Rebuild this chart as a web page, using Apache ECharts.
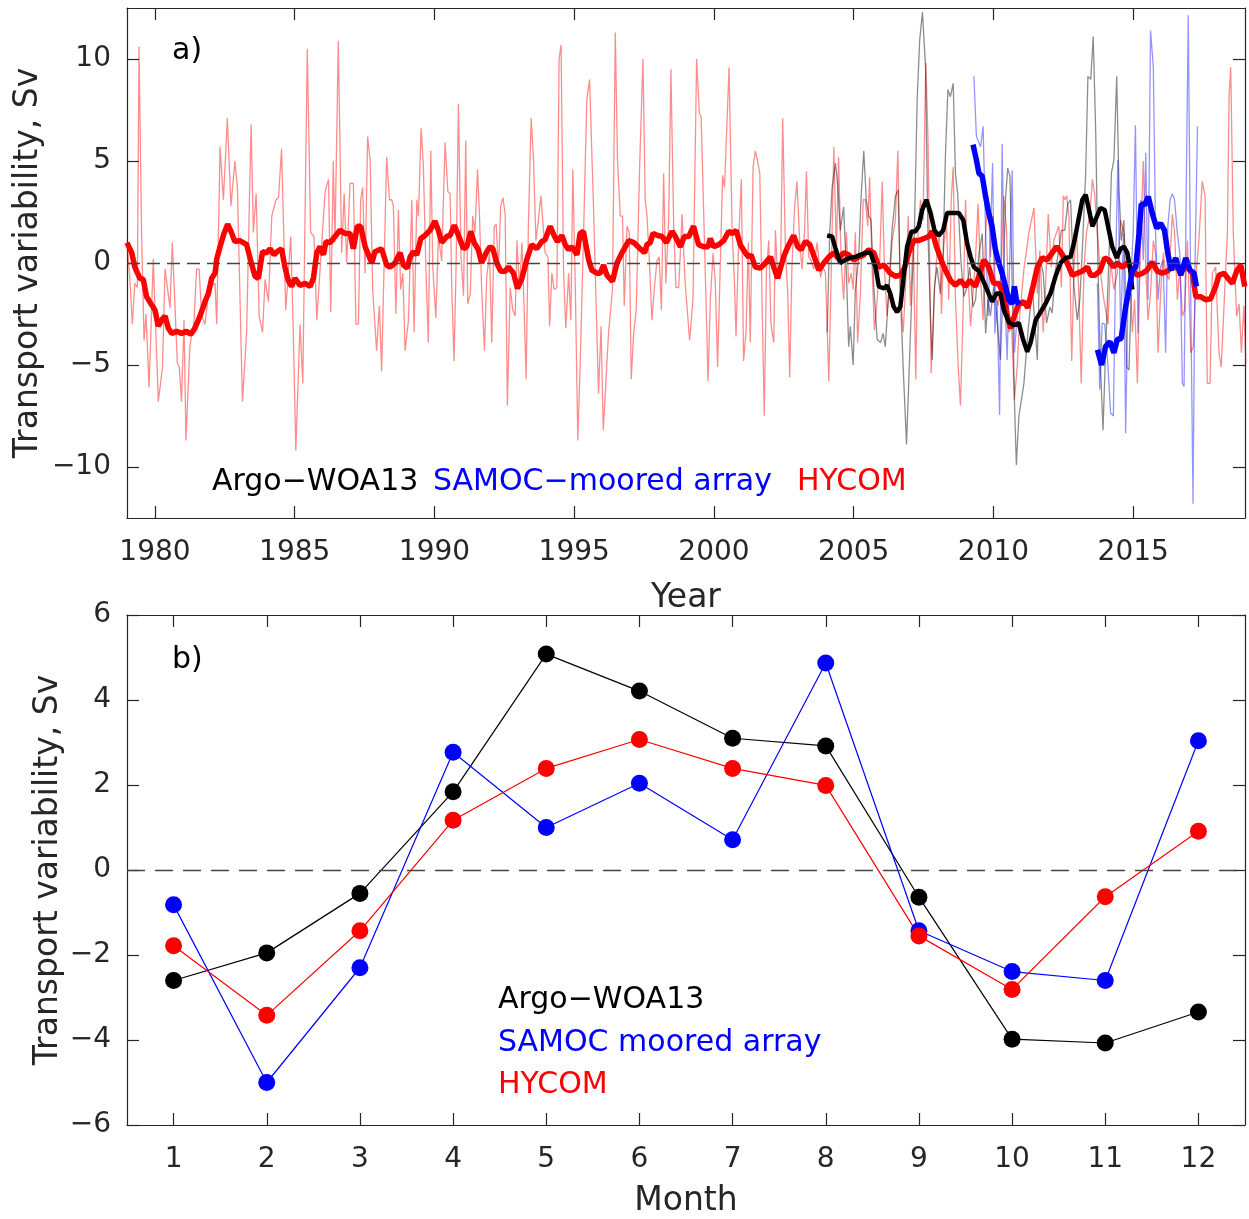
<!DOCTYPE html>
<html>
<head>
<meta charset="utf-8">
<title>Transport variability</title>
<script src="https://cdn.jsdelivr.net/npm/echarts@6/dist/echarts.min.js"></script>
<style>
  html, body { margin: 0; padding: 0; background: #fff; }
  #chart { width: 1249px; height: 1219px; }
</style>
</head>
<body>
<div id="chart"></div>
<script>
// panel a) tick positions
const yearTicks = [1980, 1985, 1990, 1995, 2000, 2005, 2010, 2015];
const transportTicks = [-10, -5, 0, 5, 10];

// HYCOM monthly transport anomaly [year, Sv]
const hycomMonthly = [
  [1979.0,1.0],[1979.1,-0.7],[1979.19,-3.0],[1979.28,-1.0],[1979.37,-1.2],[1979.43,10.6],[1979.52,1.5],[1979.61,-3.8],[1979.68,-2.5],[1979.79,-6.1],[1979.94,0.2],
  [1980.12,-6.8],[1980.27,-5.1],[1980.36,-0.3],[1980.54,-2.2],[1980.62,1.0],[1980.69,-1.2],[1980.8,-4.9],[1980.87,-5.1],[1980.95,-6.8],
  [1981.04,-2.8],[1981.11,-8.7],[1981.25,-4.1],[1981.4,-2.8],[1981.49,-0.3],[1981.58,-0.3],[1981.67,-2.6],[1981.79,-3.0],[1981.91,-1.5],
  [1982.03,-1.1],[1982.15,-1.0],[1982.21,-3.0],[1982.33,5.7],[1982.45,3.1],[1982.59,7.1],[1982.72,2.8],[1982.86,5.0],[1982.95,3.7],
  [1983.13,-6.8],[1983.28,-3.4],[1983.44,6.8],[1983.52,1.5],[1983.62,3.4],[1983.73,-2.6],[1983.85,-3.4],[1983.94,-0.8],
  [1984.06,-1.9],[1984.18,2.3],[1984.33,3.1],[1984.42,3.2],[1984.53,5.6],[1984.68,-2.3],[1984.86,1.3],[1984.95,-3.4],
  [1985.04,-9.2],[1985.19,-3.0],[1985.29,-5.9],[1985.45,10.5],[1985.57,1.5],[1985.69,1.3],[1985.79,-2.8],[1985.97,1.0],
  [1986.09,3.5],[1986.21,4.1],[1986.29,-2.4],[1986.38,5.0],[1986.44,1.0],[1986.56,10.9],[1986.68,0.5],[1986.77,3.4],[1986.86,0.0],[1986.98,3.9],
  [1987.1,3.9],[1987.19,-3.0],[1987.28,-3.0],[1987.36,3.1],[1987.43,3.7],[1987.52,-0.5],[1987.61,6.2],[1987.7,5.0],[1987.79,-1.3],[1987.93,-4.3],
  [1988.03,-2.1],[1988.11,-5.3],[1988.2,0.0],[1988.29,5.2],[1988.39,3.1],[1988.47,3.1],[1988.53,2.8],[1988.62,-2.5],[1988.71,2.6],[1988.79,-1.3],[1988.87,-0.5],[1988.95,-4.3],
  [1989.07,-2.8],[1989.19,3.1],[1989.27,-3.4],[1989.37,3.1],[1989.43,2.3],[1989.52,6.6],[1989.6,4.9],[1989.7,-0.5],[1989.78,-3.9],[1989.87,5.5],[1989.94,-0.2],
  [1990.05,-2.7],[1990.14,1.3],[1990.26,0.1],[1990.38,5.9],[1990.48,3.5],[1990.56,3.4],[1990.62,-1.2],[1990.7,-4.8],[1990.77,-0.5],[1990.86,7.8],[1990.95,0.3],
  [1991.04,-1.6],[1991.12,6.0],[1991.19,-2.0],[1991.28,-1.5],[1991.37,2.3],[1991.45,1.5],[1991.54,4.6],[1991.61,2.4],[1991.69,-1.3],[1991.79,-4.3],[1991.87,-0.7],[1991.97,0.5],
  [1992.05,-3.9],[1992.14,1.8],[1992.21,1.9],[1992.29,-0.4],[1992.37,2.8],[1992.45,3.2],[1992.53,2.4],[1992.61,-7.0],[1992.71,-1.2],[1992.8,-2.3],[1992.89,-2.6],[1992.95,1.1],
  [1993.04,-1.3],[1993.13,1.0],[1993.21,-2.3],[1993.28,-5.7],[1993.36,1.8],[1993.46,7.1],[1993.54,5.2],[1993.63,1.1],[1993.72,2.1],[1993.81,3.3],[1993.88,3.3],[1993.96,0.5],
  [1994.06,0.3],[1994.12,-3.1],[1994.2,-0.5],[1994.28,-1.3],[1994.38,-1.2],[1994.46,10.0],[1994.53,10.7],[1994.62,-0.5],[1994.7,-3.2],[1994.8,-0.5],[1994.88,-2.8],[1994.95,4.6],
  [1995.04,-1.2],[1995.13,-8.7],[1995.21,-5.1],[1995.33,1.1],[1995.45,8.0],[1995.55,9.0],[1995.69,2.8],[1995.87,-6.4],[1995.96,-3.1],
  [1996.04,-8.2],[1996.23,-3.4],[1996.37,-1.3],[1996.47,11.3],[1996.55,5.0],[1996.65,2.3],[1996.73,2.3],[1996.79,-2.1],[1996.89,1.8],[1996.97,1.5],
  [1997.04,-5.7],[1997.13,-3.4],[1997.22,-2.3],[1997.34,4.7],[1997.46,10.0],[1997.54,3.1],[1997.6,2.4],[1997.69,0.1],[1997.78,-2.8],[1997.87,-1.2],[1997.96,0.1],
  [1998.04,0.3],[1998.12,-2.3],[1998.2,4.4],[1998.28,-1.0],[1998.38,2.1],[1998.46,9.5],[1998.56,1.8],[1998.64,-1.2],[1998.74,-1.2],[1998.86,2.4],[1998.97,-1.0],
  [1999.13,-3.8],[1999.25,-1.8],[1999.38,10.0],[1999.48,7.3],[1999.54,7.2],[1999.66,1.1],[1999.79,-5.8],[1999.87,-1.8],[1999.97,0.5],
  [2000.05,-1.0],[2000.13,-5.1],[2000.23,0.1],[2000.31,4.3],[2000.38,3.7],[2000.54,9.6],[2000.65,1.6],[2000.73,-0.8],[2000.79,-3.6],[2000.89,1.3],[2000.98,4.1],
  [2001.06,-4.8],[2001.15,-3.3],[2001.23,1.0],[2001.3,-3.9],[2001.4,4.7],[2001.48,5.5],[2001.56,5.0],[2001.64,4.4],[2001.72,-1.8],[2001.8,-7.5],[2001.88,-0.3],[2001.96,1.1],
  [2002.04,-3.0],[2002.14,-3.9],[2002.2,1.6],[2002.28,-0.7],[2002.38,-0.5],[2002.46,7.1],[2002.56,0.5],[2002.64,-1.5],[2002.71,-5.6],[2002.79,-0.2],[2002.88,2.6],[2002.97,4.0],
  [2003.07,1.0],[2003.15,-0.3],[2003.24,1.5],[2003.31,4.5],[2003.39,0.3],[2003.48,0.1],[2003.57,-0.3],[2003.69,1.0],[2003.81,-0.7],[2003.9,-0.2],[2003.99,-0.5],
  [2004.11,-5.8],[2004.2,-0.2],[2004.29,5.7],[2004.38,0.5],[2004.46,5.2],[2004.55,0.1],[2004.64,-1.8],[2004.74,1.5],[2004.82,-1.0],[2004.91,-0.5],[2004.98,-1.3],
  [2005.06,1.5],[2005.14,-3.9],[2005.24,-1.5],[2005.34,3.1],[2005.42,3.1],[2005.5,1.8],[2005.57,4.2],[2005.66,-0.3],[2005.74,-3.3],[2005.84,-1.8],[2005.93,0.1],
  [2006.02,4.0],[2006.1,-0.2],[2006.19,-2.6],[2006.29,-0.7],[2006.37,1.0],[2006.49,2.1],[2006.58,5.5],[2006.67,-1.5],[2006.77,-3.4],[2006.85,-1.3],[2006.95,2.3],
  [2007.03,-2.1],[2007.13,1.3],[2007.22,-5.7],[2007.3,1.5],[2007.39,3.1],[2007.48,2.1],[2007.58,9.8],[2007.66,6.0],[2007.77,-5.4],[2007.87,-1.8],[2007.96,0.1],
  [2008.06,1.5],[2008.14,-2.5],[2008.22,0.8],[2008.32,2.1],[2008.4,-1.8],[2008.49,3.1],[2008.56,4.7],[2008.64,-1.7],[2008.74,-5.1],[2008.82,-7.0],[2008.92,-2.1],
  [2009.0,3.1],[2009.08,-0.2],[2009.18,-3.1],[2009.27,-1.5],[2009.36,0.3],[2009.45,2.9],[2009.54,-0.8],[2009.63,-2.8],[2009.72,1.5],[2009.81,3.3],[2009.89,0.3],[2009.99,2.3],
  [2010.08,-1.7],[2010.17,-2.1],[2010.28,-0.2],[2010.37,3.3],[2010.47,1.6],[2010.56,-3.4],[2010.65,-3.1],[2010.75,-6.7],[2010.85,-5.1],[2010.94,-2.6],
  [2011.09,-0.3],[2011.27,1.5],[2011.45,2.7],[2011.57,-1.5],[2011.66,0.6],[2011.78,-3.4],[2011.86,-1.3],[2011.96,2.4],
  [2012.07,-0.2],[2012.16,1.1],[2012.26,1.5],[2012.34,1.8],[2012.43,-1.2],[2012.5,3.3],[2012.56,3.1],[2012.62,3.3],[2012.7,2.3],[2012.8,-4.8],[2012.88,-0.2],[2012.97,1.8],
  [2013.06,-1.8],[2013.14,-5.9],[2013.24,-0.2],[2013.33,1.5],[2013.45,2.4],[2013.54,4.1],[2013.62,3.4],[2013.72,1.5],[2013.83,-0.5],[2013.95,-1.8],
  [2014.1,-3.0],[2014.19,0.1],[2014.31,-1.3],[2014.43,-0.5],[2014.55,2.1],[2014.67,1.5],[2014.77,-0.2],[2014.85,0.5],[2014.97,-3.4],
  [2015.05,-1.8],[2015.15,-5.9],[2015.27,1.5],[2015.36,5.0],[2015.45,-0.2],[2015.53,-2.8],[2015.62,-1.5],[2015.72,1.1],[2015.8,0.5],[2015.89,-4.4],[2015.98,-1.5],
  [2016.08,0.5],[2016.16,-0.5],[2016.28,-0.8],[2016.4,2.4],[2016.48,1.5],[2016.58,-1.8],[2016.67,-0.2],[2016.76,-2.6],[2016.84,-2.3],[2016.94,1.1],
  [2017.06,-4.4],[2017.15,-4.1],[2017.27,-0.2],[2017.35,1.1],[2017.47,4.0],[2017.57,3.3],[2017.65,-5.9],[2017.75,-5.9],[2017.83,-0.5],[2017.95,-0.2],
  [2018.07,-4.4],[2018.15,-5.1],[2018.27,-1.5],[2018.37,1.5],[2018.43,8.2],[2018.49,9.6],[2018.58,1.5],[2018.7,-2.6],[2018.79,-2.0],[2018.87,-4.4],[2018.96,-2.1],[2019.03,-4.9]
];

// HYCOM smoothed
const hycomSmooth = [
  [1979.0,1.0],[1979.17,0.5],[1979.28,-0.2],[1979.46,-0.75],[1979.58,-0.8],[1979.7,-1.65],[1979.88,-2.05],[1980.0,-2.3],[1980.12,-3.1],[1980.24,-2.8],
  [1980.36,-2.6],[1980.48,-3.2],[1980.6,-3.45],[1980.78,-3.35],[1980.95,-3.45],[1981.13,-3.35],[1981.28,-3.5],[1981.43,-3.2],[1981.61,-2.6],[1981.79,-1.9],
  [1981.91,-1.5],[1982.03,-0.75],[1982.15,-0.5],[1982.21,0.2],[1982.33,0.8],[1982.47,1.45],[1982.6,1.9],[1982.72,1.55],[1982.86,1.05],[1983.02,1.1],
  [1983.16,1.0],[1983.28,0.9],[1983.42,0.15],[1983.58,-0.65],[1983.7,-0.75],[1983.85,0.55],[1983.99,0.5],[1984.12,0.7],[1984.26,0.4],[1984.36,0.55],
  [1984.53,0.7],[1984.65,-0.2],[1984.77,-0.85],[1984.89,-1.15],[1985.01,-0.75],[1985.19,-1.1],[1985.37,-1.0],[1985.55,-1.15],[1985.67,-0.75],[1985.79,0.5],
  [1985.91,0.8],[1986.03,0.4],[1986.12,1.05],[1986.27,1.0],[1986.44,1.3],[1986.62,1.6],[1986.8,1.45],[1986.98,1.45],[1987.1,0.7],[1987.24,1.8],
  [1987.36,1.8],[1987.52,0.8],[1987.64,0.4],[1987.76,0.0],[1987.87,0.55],[1988.11,0.7],[1988.29,-0.1],[1988.41,-0.2],[1988.59,0.0],[1988.77,0.5],
  [1988.89,-0.1],[1989.03,-0.25],[1989.13,0.3],[1989.25,0.55],[1989.37,0.4],[1989.51,1.2],[1989.66,1.35],[1989.84,1.6],[1990.02,2.05],[1990.14,1.6],
  [1990.26,1.0],[1990.44,1.3],[1990.56,1.35],[1990.71,1.85],[1990.86,1.35],[1991.04,0.7],[1991.16,0.8],[1991.3,1.55],[1991.42,1.0],[1991.57,0.65],
  [1991.69,0.0],[1991.85,0.5],[1991.99,0.8],[1992.09,0.7],[1992.23,0.0],[1992.37,-0.4],[1992.53,-0.4],[1992.65,-0.2],[1992.83,-0.5],[1992.97,-1.25],
  [1993.13,-0.75],[1993.3,0.15],[1993.48,0.9],[1993.66,0.7],[1993.84,1.05],[1993.96,1.15],[1994.14,1.8],[1994.28,1.35],[1994.4,1.05],[1994.56,1.35],
  [1994.68,0.9],[1994.8,0.65],[1994.92,0.8],[1995.1,0.4],[1995.21,1.45],[1995.33,1.55],[1995.52,0.15],[1995.63,-0.35],[1995.81,-0.5],[1995.93,-0.5],
  [1996.05,-0.1],[1996.17,-0.6],[1996.37,-0.9],[1996.53,0.0],[1996.71,0.5],[1996.95,1.1],[1997.13,1.0],[1997.36,0.7],[1997.52,0.5],[1997.6,0.9],
  [1997.72,1.0],[1997.82,1.45],[1997.99,1.35],[1998.14,1.3],[1998.3,1.0],[1998.5,1.55],[1998.62,1.3],[1998.8,0.8],[1998.94,1.3],[1999.1,1.3],
  [1999.27,1.8],[1999.45,0.9],[1999.63,0.8],[1999.79,0.8],[1999.87,1.2],[1999.99,0.8],[2000.17,0.9],[2000.35,1.1],[2000.53,1.55],[2000.65,1.45],
  [2000.8,1.6],[2000.94,0.9],[2001.12,0.5],[2001.24,0.3],[2001.33,0.4],[2001.48,-0.2],[2001.66,-0.25],[2001.84,0.0],[2002.02,0.3],[2002.14,-0.2],
  [2002.28,-0.75],[2002.38,-0.25],[2002.52,0.4],[2002.68,0.9],[2002.85,1.35],[2003.0,0.8],[2003.12,0.65],[2003.27,1.05],[2003.43,0.9],[2003.63,0.15],
  [2003.75,-0.35],[2003.93,0.0],[2004.11,0.3],[2004.29,0.5],[2004.46,0.2],[2004.64,0.5],[2004.82,0.4],[2005.0,0.15],[2005.18,0.3],[2005.36,0.4],
  [2005.54,0.65],[2005.72,0.5],[2005.9,-0.2],[2006.08,-0.1],[2006.31,-0.5],[2006.49,-0.65],[2006.67,-0.6],[2006.83,-0.2],[2006.97,0.5],[2007.15,1.1],
  [2007.33,1.1],[2007.51,1.2],[2007.69,1.3],[2007.81,1.55],[2007.96,0.8],[2008.13,0.15],[2008.28,-0.35],[2008.46,-0.85],[2008.64,-1.1],[2008.82,-0.85],
  [2009.0,-1.15],[2009.15,-0.85],[2009.36,-1.15],[2009.51,-0.5],[2009.66,0.15],[2009.83,-0.2],[2010.01,-1.0],[2010.19,-1.0],[2010.35,-1.5],[2010.49,-2.55],
  [2010.61,-3.2],[2010.76,-2.55],[2010.91,-2.0],[2011.09,-1.9],[2011.23,-2.2],[2011.39,-1.3],[2011.57,-0.2],[2011.75,0.25],[2011.92,0.15],[2012.1,0.5],
  [2012.26,0.8],[2012.4,0.55],[2012.58,0.15],[2012.7,-0.2],[2012.82,-0.6],[2013.0,-0.5],[2013.18,-0.4],[2013.36,-0.2],[2013.48,-0.6],[2013.62,-0.6],
  [2013.81,-0.4],[2013.98,0.25],[2014.13,0.15],[2014.29,-0.2],[2014.43,0.0],[2014.61,-0.2],[2014.79,0.0],[2014.97,-0.35],[2015.15,-0.6],[2015.33,-0.5],
  [2015.5,-0.35],[2015.68,0.05],[2015.86,-0.4],[2016.04,-0.5],[2016.22,-0.4],[2016.4,-0.2],[2016.58,-0.25],[2016.76,-0.35],[2016.94,-0.2],[2017.12,-0.5],
  [2017.24,-1.65],[2017.41,-1.65],[2017.59,-1.8],[2017.77,-1.75],[2017.95,-1.15],[2018.07,-0.6],[2018.25,-0.5],[2018.39,-0.75],[2018.55,-1.0],[2018.7,-0.4],
  [2018.85,-0.1],[2018.99,-1.15]
];

// Argo-WOA13 monthly and smoothed
const argoMonthly = [
  [2004.05,-3.4],[2004.14,1.45],[2004.23,3.75],[2004.35,4.9],[2004.43,3.75],[2004.52,1.6],[2004.64,2.75],[2004.74,-0.5],[2004.82,-4.1],[2004.88,-3.1],[2004.98,-5.0],
  [2005.06,-1.3],[2005.18,0.3],[2005.26,3.1],[2005.36,5.5],[2005.45,3.1],[2005.54,2.3],[2005.62,2.1],[2005.72,-1.15],[2005.84,-3.75],[2005.96,-3.9],
  [2006.05,-3.45],[2006.13,-4.1],[2006.25,-1.5],[2006.37,1.6],[2006.49,3.25],[2006.59,3.6],[2006.67,-1.5],[2006.77,-5.1],[2006.89,-8.9],[2006.98,-5.4],
  [2007.09,-1.15],[2007.17,1.45],[2007.27,8.0],[2007.36,10.9],[2007.46,12.3],[2007.57,9.6],[2007.65,1.8],[2007.75,-2.8],[2007.81,-4.75],[2007.89,-1.15],[2007.98,-0.2],
  [2008.1,-1.5],[2008.2,0.45],[2008.28,5.2],[2008.37,8.5],[2008.46,8.15],[2008.56,8.8],[2008.64,4.4],[2008.72,3.4],[2008.84,0.0],[2008.94,-1.65],
  [2009.06,-1.15],[2009.15,-0.2],[2009.27,-2.15],[2009.36,-1.8],[2009.48,0.45],[2009.6,1.45],[2009.72,-3.45],[2009.81,-1.8],[2009.89,-2.6],
  [2010.01,-1.15],[2010.13,-2.8],[2010.25,-4.75],[2010.35,-1.0],[2010.43,3.1],[2010.51,4.65],[2010.59,4.25],[2010.67,-1.0],[2010.75,-6.7],[2010.82,-9.9],[2010.91,-7.5],
  [2011.09,-5.9],[2011.23,-3.45],[2011.39,-1.15],[2011.57,-4.75],[2011.66,0.3],[2011.78,-0.5],[2011.9,-2.95],
  [2012.02,-2.15],[2012.1,-2.45],[2012.22,-0.35],[2012.34,0.65],[2012.43,1.6],[2012.55,1.6],[2012.66,2.9],[2012.76,3.1],[2012.88,-1.15],
  [2013.0,-2.8],[2013.09,-1.8],[2013.18,0.65],[2013.3,4.4],[2013.38,9.15],[2013.48,9.0],[2013.57,11.1],[2013.66,6.35],[2013.74,-0.2],[2013.83,-5.1],[2013.92,-8.2],
  [2014.01,-4.4],[2014.13,0.15],[2014.22,4.4],[2014.31,5.05],[2014.41,9.15],[2014.49,3.75],[2014.57,1.1],[2014.67,2.1],[2014.77,-5.1],[2014.85,-5.25],[2014.93,-1.5]
];
const argoSmooth = [
  [2004.05,1.35],[2004.23,1.3],[2004.35,0.7],[2004.52,0.0],[2004.7,0.15],[2004.88,0.25],[2005.06,0.3],[2005.24,0.4],[2005.42,0.5],[2005.6,0.5],
  [2005.78,-0.2],[2005.9,-1.15],[2006.08,-1.25],[2006.19,-1.1],[2006.31,-1.5],[2006.43,-2.15],[2006.55,-2.4],[2006.67,-2.15],[2006.79,-0.65],[2006.91,0.8],
  [2007.07,1.55],[2007.21,1.55],[2007.33,1.8],[2007.45,2.6],[2007.6,3.1],[2007.75,2.45],[2007.89,1.6],[2008.04,1.35],[2008.2,1.6],[2008.34,2.45],
  [2008.52,2.45],[2008.76,2.45],[2008.92,2.1],[2009.06,0.95],[2009.18,0.3],[2009.3,-0.2],[2009.48,-0.4],[2009.63,-0.85],[2009.77,-1.3],[2009.95,-1.9],
  [2010.11,-1.5],[2010.25,-1.5],[2010.37,-2.3],[2010.55,-2.9],[2010.73,-3.05],[2010.91,-2.95],[2011.06,-3.75],[2011.21,-4.35],[2011.33,-3.9],[2011.51,-2.8],
  [2011.69,-2.4],[2011.86,-2.0],[2012.04,-1.5],[2012.22,-0.65],[2012.4,0.0],[2012.58,0.25],[2012.76,0.3],[2012.9,1.1],[2013.06,2.25],[2013.18,3.1],
  [2013.3,3.35],[2013.42,2.6],[2013.54,1.8],[2013.69,2.25],[2013.83,2.7],[2013.98,2.6],[2014.1,1.8],[2014.25,0.8],[2014.41,0.25],[2014.55,0.7],
  [2014.67,0.8],[2014.79,0.5],[2014.88,-0.2],[2014.97,-1.3]
];

// SAMOC moored array, two deployment periods
const samocMonthlyA = [
  [2009.3,9.15],[2009.39,6.2],[2009.54,5.7],[2009.63,6.7],[2009.72,1.45],[2009.81,-2.6],[2009.89,1.1],[2009.97,4.9],[2010.05,-3.45],[2010.13,-1.8],
  [2010.22,-7.45],[2010.31,5.85],[2010.4,-1.3],[2010.49,-4.75],[2010.57,-0.5],[2010.67,4.55],[2010.75,-4.4],[2010.85,-2.6]
];
const samocMonthlyB = [
  [2013.72,-1.0],[2013.8,-6.2],[2013.89,-2.95],[2013.98,-3.0],[2014.1,-5.1],[2014.19,-7.35],[2014.29,-7.5],[2014.37,-0.2],[2014.45,5.05],[2014.55,-3.45],
  [2014.65,1.45],[2014.73,-8.35],[2014.81,-1.8],[2014.91,-0.85],[2015.0,1.45],[2015.08,6.75],[2015.17,-3.45],[2015.27,3.1],[2015.36,0.15],[2015.45,5.4],
  [2015.53,-1.8],[2015.62,11.4],[2015.72,9.6],[2015.8,1.45],[2015.89,-1.8],[2015.98,-0.2],[2016.07,0.15],[2016.16,-4.4],[2016.24,1.8],[2016.32,3.1],
  [2016.4,3.4],[2016.48,3.1],[2016.58,1.45],[2016.67,0.45],[2016.76,-5.9],[2016.82,-6.05],[2016.91,5.05],[2016.97,12.15],[2017.06,-1.8],[2017.14,-11.8],
  [2017.21,-0.2],[2017.3,6.7]
];
const samocSmoothA = [
  [2009.27,5.8],[2009.39,5.05],[2009.48,4.4],[2009.6,4.25],[2009.72,3.25],[2009.83,2.45],[2009.95,1.8],[2010.07,0.65],[2010.19,0.0],[2010.31,-0.5],
  [2010.43,-1.15],[2010.55,-1.8],[2010.67,-2.0],[2010.75,-1.15],[2010.82,-1.8],[2010.91,-2.05]
];
const samocSmoothB = [
  [2013.72,-4.25],[2013.87,-5.0],[2014.01,-4.1],[2014.17,-3.85],[2014.31,-4.4],[2014.43,-3.75],[2014.57,-3.7],[2014.73,-2.15],[2014.85,-1.3],[2014.97,-0.35],
  [2015.09,-0.2],[2015.21,1.45],[2015.29,2.9],[2015.41,2.85],[2015.54,3.25],[2015.68,2.45],[2015.84,1.7],[2015.98,1.95],[2016.12,1.6],[2016.24,0.45],
  [2016.36,-0.35],[2016.52,0.25],[2016.7,-0.6],[2016.88,0.25],[2017.03,-0.35],[2017.18,-0.5],[2017.26,-1.15]
];

// panel b) seasonal cycle
const months = [1, 2, 3, 4, 5, 6, 7, 8, 9, 10, 11, 12];
const argoSeasonal = [-2.6, -1.95, -0.55, 1.84, 5.08, 4.21, 3.1, 2.92, -0.64, -3.98, -4.07, -3.34];
const samocSeasonal = [-0.82, -5.0, -2.3, 2.77, 1.0, 2.04, 0.71, 4.87, -1.43, -2.39, -2.6, 3.04];
const hycomSeasonal = [-1.78, -3.42, -1.43, 1.17, 2.39, 3.07, 2.39, 1.99, -1.55, -2.81, -0.63, 0.91];

const FONT = 'DejaVu Sans';
const AX = '#262626';
const minus = v => (v < 0 ? '\u2212' + Math.abs(v) : String(v));

function frameAxis(extra) {
  return Object.assign({
    type: 'value',
    axisLine: { show: true, onZero: false, lineStyle: { color: AX, width: 1.2 } },
    axisTick: { show: true, inside: true, length: 12, lineStyle: { color: AX, width: 1.2 } },
    axisLabel: { show: false },
    splitLine: { show: false }
  }, extra);
}
const labelStyle = { show: true, color: AX, fontFamily: FONT, fontSize: 28 };
const nameStyle = { color: AX, fontFamily: FONT, fontSize: 33 };
const ticksAt = vals => ({ show: true, inside: true, length: 12, customValues: vals, lineStyle: { color: AX, width: 1.2 } });

const pair = arr => arr.map(p => [p[0], p[1]]);
const zip = (xs, ys) => xs.map((x, i) => [x, ys[i]]);

const chart = echarts.init(document.getElementById('chart'), null, { renderer: 'canvas' });

const option = {
  animation: false,
  backgroundColor: '#fff',
  grid: [
    { left: 127, top: 8, width: 1118, height: 510 },
    { left: 127, top: 615, width: 1118, height: 512 }
  ],
  xAxis: [
    frameAxis({
      gridIndex: 0, position: 'bottom', min: 1979, max: 2019,
      axisTick: ticksAt(yearTicks),
      axisLabel: Object.assign({ customValues: yearTicks, margin: 21, formatter: v => String(v) }, labelStyle),
      name: 'Year', nameLocation: 'middle', nameGap: 64, nameTextStyle: nameStyle
    }),
    frameAxis({ gridIndex: 0, position: 'top', min: 1979, max: 2019, axisTick: ticksAt(yearTicks) }),
    frameAxis({
      gridIndex: 1, position: 'bottom', min: 0.5, max: 12.5,
      axisTick: ticksAt(months),
      axisLabel: Object.assign({ customValues: months, margin: 21, formatter: v => String(v) }, labelStyle),
      name: 'Month', nameLocation: 'middle', nameGap: 60, nameTextStyle: nameStyle
    }),
    frameAxis({ gridIndex: 1, position: 'top', min: 0.5, max: 12.5, axisTick: ticksAt(months) })
  ],
  yAxis: [
    frameAxis({
      gridIndex: 0, position: 'left', min: -12.5, max: 12.5,
      axisTick: ticksAt(transportTicks),
      axisLabel: Object.assign({ customValues: transportTicks, margin: 16, formatter: minus }, labelStyle),
      name: 'Transport variability, Sv', nameLocation: 'middle', nameGap: 82, nameMoveOverlap: false,
      nameTextStyle: nameStyle
    }),
    frameAxis({ gridIndex: 0, position: 'right', min: -12.5, max: 12.5, axisTick: ticksAt(transportTicks) }),
    frameAxis({
      gridIndex: 1, position: 'left', min: -6, max: 6, interval: 2,
      axisLabel: Object.assign({ margin: 16, formatter: minus }, labelStyle),
      name: 'Transport variability, Sv', nameLocation: 'middle', nameGap: 62, nameMoveOverlap: false,
      nameTextStyle: nameStyle
    }),
    frameAxis({ gridIndex: 1, position: 'right', min: -6, max: 6, interval: 2 })
  ],
  series: [
    {
      name: 'HYCOM monthly', type: 'line', xAxisIndex: 0, yAxisIndex: 0, showSymbol: false,
      data: pair(hycomMonthly), lineStyle: { color: 'rgba(255,0,0,0.45)', width: 1.3 },
      markLine: {
        silent: true, symbol: 'none', label: { show: false },
        lineStyle: { color: '#444', type: [13, 7], width: 1.4 },
        data: [{ yAxis: 0 }]
      }
    },
    { name: 'Argo monthly', type: 'line', xAxisIndex: 0, yAxisIndex: 0, showSymbol: false,
      data: pair(argoMonthly), lineStyle: { color: 'rgba(0,0,0,0.45)', width: 1.3 } },
    { name: 'SAMOC monthly A', type: 'line', xAxisIndex: 0, yAxisIndex: 0, showSymbol: false,
      data: pair(samocMonthlyA), lineStyle: { color: 'rgba(0,0,255,0.42)', width: 1.3 } },
    { name: 'SAMOC monthly B', type: 'line', xAxisIndex: 0, yAxisIndex: 0, showSymbol: false,
      data: pair(samocMonthlyB), lineStyle: { color: 'rgba(0,0,255,0.42)', width: 1.3 } },
    { name: 'HYCOM smooth', type: 'line', xAxisIndex: 0, yAxisIndex: 0, showSymbol: false,
      data: pair(hycomSmooth), lineStyle: { color: '#ff0000', width: 5.5 } },
    { name: 'Argo smooth', type: 'line', xAxisIndex: 0, yAxisIndex: 0, showSymbol: false,
      data: pair(argoSmooth), lineStyle: { color: '#000', width: 4.5 } },
    { name: 'SAMOC smooth A', type: 'line', xAxisIndex: 0, yAxisIndex: 0, showSymbol: false,
      data: pair(samocSmoothA), lineStyle: { color: '#0000ff', width: 5.5 } },
    { name: 'SAMOC smooth B', type: 'line', xAxisIndex: 0, yAxisIndex: 0, showSymbol: false,
      data: pair(samocSmoothB), lineStyle: { color: '#0000ff', width: 5.5 } },

    {
      name: 'Argo-WOA13', type: 'line', xAxisIndex: 2, yAxisIndex: 2,
      data: zip(months, argoSeasonal), symbol: 'circle', symbolSize: 17,
      itemStyle: { color: '#000' }, lineStyle: { color: '#000', width: 1.2 },
      markLine: {
        silent: true, symbol: 'none', label: { show: false },
        lineStyle: { color: '#444', type: [18, 10], width: 1.4 },
        data: [{ yAxis: 0 }]
      }
    },
    { name: 'SAMOC moored array', type: 'line', xAxisIndex: 2, yAxisIndex: 2,
      data: zip(months, samocSeasonal), symbol: 'circle', symbolSize: 17,
      itemStyle: { color: '#0000ff' }, lineStyle: { color: '#0000ff', width: 1.2 } },
    { name: 'HYCOM', type: 'line', xAxisIndex: 2, yAxisIndex: 2,
      data: zip(months, hycomSeasonal), symbol: 'circle', symbolSize: 17,
      itemStyle: { color: '#ff0000' }, lineStyle: { color: '#ff0000', width: 1.2 } }
  ],
  graphic: [
    { type: 'text', left: 172, top: 36, style: { text: 'a)', fill: '#000', font: '30px "DejaVu Sans"' } },
    { type: 'text', left: 212, top: 467, style: { text: 'Argo\u2212WOA13', fill: '#000', font: '30px "DejaVu Sans"' } },
    { type: 'text', left: 433, top: 467, style: { text: 'SAMOC\u2212moored array', fill: '#0000ff', font: '30px "DejaVu Sans"' } },
    { type: 'text', left: 797, top: 467, style: { text: 'HYCOM', fill: '#ff0000', font: '30px "DejaVu Sans"' } },
    { type: 'text', left: 172, top: 645, style: { text: 'b)', fill: '#000', font: '30px "DejaVu Sans"' } },
    { type: 'text', left: 498, top: 985, style: { text: 'Argo\u2212WOA13', fill: '#000', font: '30px "DejaVu Sans"' } },
    { type: 'text', left: 498, top: 1028, style: { text: 'SAMOC moored array', fill: '#0000ff', font: '30px "DejaVu Sans"' } },
    { type: 'text', left: 498, top: 1070, style: { text: 'HYCOM', fill: '#ff0000', font: '30px "DejaVu Sans"' } }
  ]
};

chart.setOption(option);
</script>
</body>
</html>
